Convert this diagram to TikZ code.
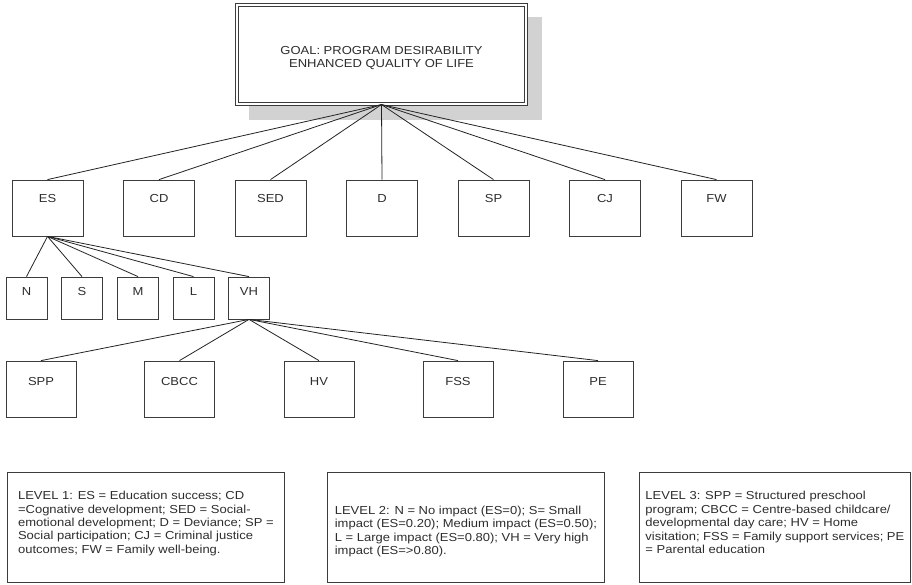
\documentclass[tikz,border=0pt]{standalone}
\usepackage{fontspec}
\setmainfont[FakeStretch=1.12]{Liberation Sans}
\usepackage{tikz}
\usepackage{xcolor}
\definecolor{boxline}{RGB}{60,60,60}
\definecolor{linkline}{RGB}{35,35,35}
\definecolor{shadowgray}{RGB}{210,210,210}
\definecolor{inkgray}{RGB}{45,45,45}

\begin{document}
\begin{tikzpicture}[x=1pt, y=-1pt, font=\fontsize{11.6}{13.4}\selectfont,
  text=inkgray,
  goalbox/.style={draw=boxline, double, double distance=2.2pt,
    line width=0.7pt, fill=white, minimum width=289.4pt,
    minimum height=99.4pt, align=center, inner sep=0pt,
    font=\fontsize{11.6}{12.5}\selectfont},
  lvlone/.style={draw=boxline, line width=0.8pt, minimum width=71pt,
    inner sep=0pt, text height=23pt, text depth=33pt},
  lvltwo/.style={draw=boxline, line width=0.8pt, minimum width=41pt,
    inner sep=0pt, text height=18pt, text depth=24pt},
  lvlthree/.style={draw=boxline, line width=0.8pt, minimum width=70pt,
    inner sep=0pt, text height=24pt, text depth=32pt},
  legend/.style={draw=boxline, line width=0.8pt, minimum height=110pt,
    align=left, anchor=north west},
  link/.style={draw=linkline, line width=0.8pt}]
  \useasboundingbox (0,0) rectangle (912,585);
  % goal with its shadow
  \fill[shadowgray] (249,17) rectangle (542,120);
  \node[goalbox] (goal) at (381.5,54.5)
    {\rule{0pt}{15pt}GOAL: PROGRAM DESIRABILITY\\ENHANCED QUALITY OF LIFE};
  % level 1
  \node[lvlone] (es)  at (47.5,208)  {ES};
  \node[lvlone] (cd)  at (159,208)   {CD};
  \node[lvlone] (sed) at (270.5,208) {SED};
  \node[lvlone] (dev) at (382,208)   {D};
  \node[lvlone] (sp)  at (493.5,208) {SP};
  \node[lvlone] (cj)  at (605,208)   {CJ};
  \node[lvlone] (fw)  at (716.5,208) {FW};
  % level 2
  \node[lvltwo] (none)  at (26.5,298)  {N};
  \node[lvltwo] (small) at (82,298)    {S};
  \node[lvltwo] (med)   at (138,298)   {M};
  \node[lvltwo] (large) at (193.5,298) {L};
  \node[lvltwo] (vh)    at (249,298)   {VH};
  % level 3
  \node[lvlthree] (spp)  at (41,389)    {SPP};
  \node[lvlthree] (cbcc) at (179.5,389) {CBCC};
  \node[lvlthree] (hv)   at (319,389)   {HV};
  \node[lvlthree] (fss)  at (458,389)   {FSS};
  \node[lvlthree] (pe)   at (598,389)   {PE};
  % tree links
  \foreach \n in {es,cd,sed,dev,sp,cj,fw}
    \draw[link] (goal.south) -- (\n.north);
  \foreach \n in {none,small,med,large,vh}
    \draw[link] (es.south) -- (\n.north);
  \foreach \n in {spp,cbcc,hv,fss,pe}
    \draw[link] (vh.south) -- (\n.north);
  % legends
  \node[legend, minimum width=277pt] (keyone) at (7,472)
    {LEVEL 1: ES = Education success; CD\\
     =Cognative development; SED = Social-\\
     emotional development; D = Deviance; SP =\\
     Social participation; CJ = Criminal justice\\
     outcomes; FW = Family well-being.\rule[-10.4pt]{0pt}{0pt}};
  \node[legend, minimum width=277pt] (keytwo) at (327,472)
    {\rule{0pt}{16.5pt}LEVEL 2: N = No impact (ES=0); S= Small\\
     impact (ES=0.20); Medium impact (ES=0.50);\\
     L = Large impact (ES=0.80); VH = Very high\\
     impact (ES=>0.80).};
  \node[legend, minimum width=271pt] (keythree) at (639,472)
    {LEVEL 3: SPP = Structured preschool\\
     program; CBCC = Centre-based childcare/\\
     developmental day care; HV = Home\\
     visitation; FSS = Family support services; PE\\
     = Parental education\rule[-10pt]{0pt}{0pt}};
\end{tikzpicture}
\end{document}
